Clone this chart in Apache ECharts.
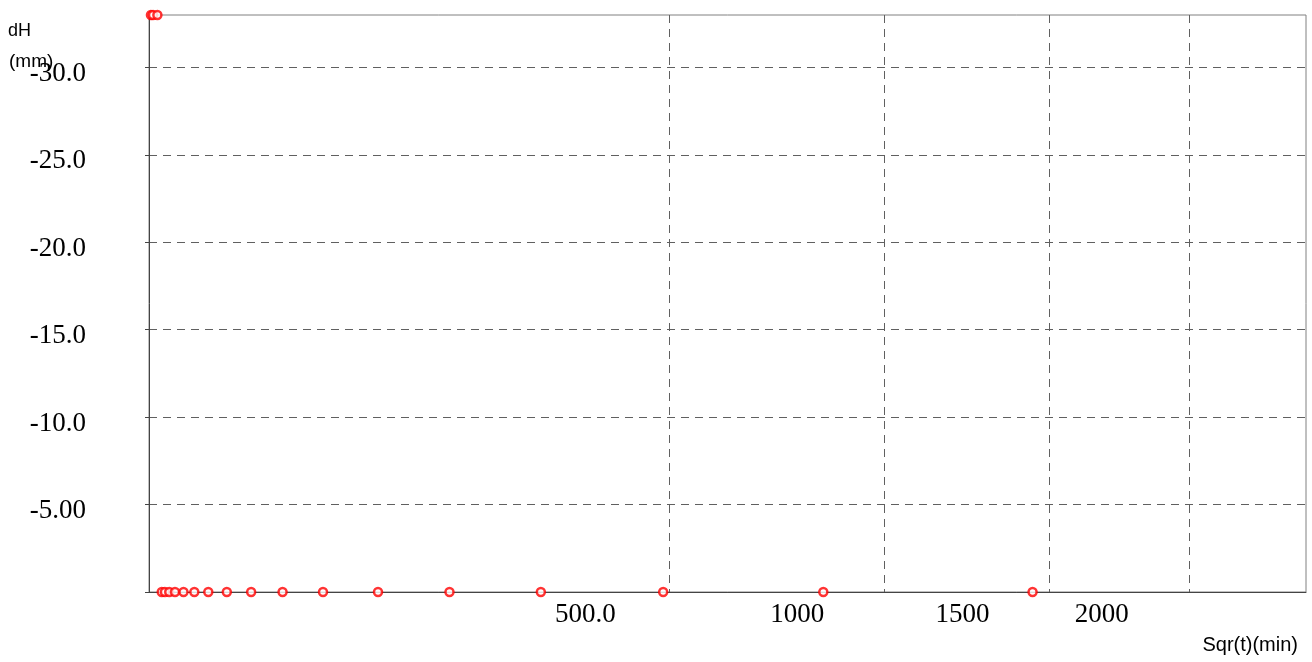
<!DOCTYPE html>
<html>
<head>
<meta charset="utf-8">
<script src="https://cdn.jsdelivr.net/npm/echarts@6/dist/echarts.min.js"></script>
<style>
    html, body { margin: 0; padding: 0; background: #fff; }
    #chart { width: 1312px; height: 662px; }
</style>
</head>
<body>
<div id="chart"></div>
<script>
    // time (min) and settlement dH (mm)
    var timeMin = [0.007, 0.03, 0.13, 0.30, 0.47, 0.76, 1.25, 2.2, 3.8, 6.5, 11.2, 19.3, 33, 56, 97, 167, 284, 489, 841, 1444];
    var dH = [-33, -33, -33, 0, 0, 0, 0, 0, 0, 0, 0, 0, 0, 0, 0, 0, 0, 0, 0, 0];
    var xTicks = [500, 1000, 1500, 2000];
    var xTickLabels = ['500.0', '1000', '1500', '2000'];
    var yTicks = [-30, -25, -20, -15, -10, -5];
    var yTickLabels = ['-30.0', '-25.0', '-20.0', '-15.0', '-10.0', '-5.00'];
    var xMax = 2476;
    var yMin = -33;

    var chart = echarts.init(document.getElementById('chart'));

    // x axis is drawn on a sqrt(t) scale
    var points = timeMin.map(function (t, i) {
        return [Math.sqrt(t), dH[i]];
    });
    var xTickPos = xTicks.map(function (t) { return Math.sqrt(t); });

    var gridDash = {color: '#606060', type: [8, 6], width: 1};

    var option = {
        animation: false,
        backgroundColor: '#fff',
        grid: {
            left: 149, right: 6, top: 15, bottom: 70,
            show: true, borderColor: '#808080', borderWidth: 1
        },
        xAxis: {
            type: 'value',
            min: 0,
            max: Math.sqrt(xMax),
            axisLine: {show: true, lineStyle: {color: '#444'}},
            axisTick: {show: false, customValues: xTickPos},
            splitLine: {show: true, lineStyle: gridDash},
            axisLabel: {
                customValues: xTickPos,
                align: 'right',
                margin: 9,
                formatter: function (v) {
                    var i = xTickPos.indexOf(v);
                    return '{a|' + (i >= 0 ? xTickLabels[i] : '') + '}';
                },
                rich: {
                    a: {width: 114, align: 'left', fontFamily: 'Liberation Serif', fontSize: 27, color: '#000'}
                }
            }
        },
        yAxis: {
            type: 'value',
            inverse: true,
            min: yMin,
            max: 0,
            axisLine: {show: true, lineStyle: {color: '#444'}},
            axisTick: {show: true, length: 4, customValues: yTicks.concat([0]), lineStyle: {color: '#444'}},
            splitLine: {show: true, lineStyle: gridDash},
            axisLabel: {
                customValues: yTicks,
                margin: 63,
                formatter: function (v) {
                    var i = yTicks.indexOf(v);
                    return '{a|' + (i >= 0 ? yTickLabels[i] : '') + '}';
                },
                rich: {
                    a: {padding: [13, 0, 0, 0], fontFamily: 'Liberation Serif', fontSize: 27, color: '#000'}
                }
            }
        },
        graphic: [
            {type: 'text', left: 8, top: 22, style: {text: 'dH', font: '18px "Liberation Sans Narrow", "Liberation Sans"', fill: '#000'}},
            {type: 'text', left: 9, top: 52, style: {text: '(mm)', font: '19px "Liberation Sans"', fill: '#000'}},
            {type: 'text', right: 14, top: 635, style: {text: 'Sqr(t)(min)', font: '20px "Liberation Sans"', fill: '#000'}}
        ],
        series: [
            {
                type: 'scatter',
                data: points,
                symbol: 'circle',
                symbolSize: 8,
                itemStyle: {color: '#fff', borderColor: '#ff0000', borderWidth: 2.5},
                z: 5
            }
        ]
    };

    chart.setOption(option);
</script>
</body>
</html>
